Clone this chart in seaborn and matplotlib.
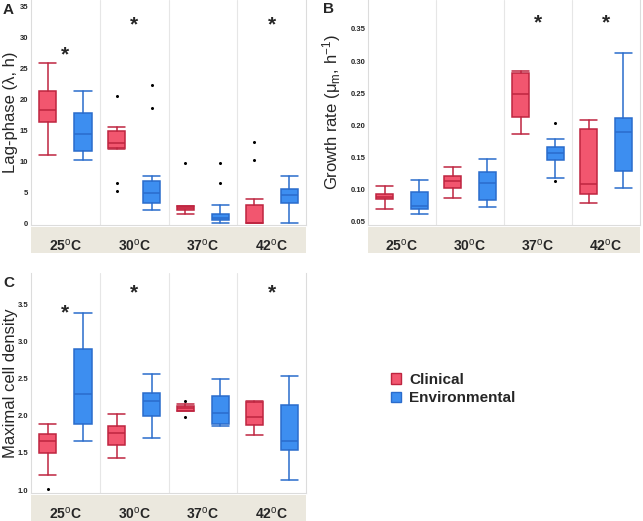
import numpy as np
import pandas as pd
import seaborn as sns
import matplotlib.pyplot as plt
from matplotlib.patches import Patch

# temperatures (categories)
temps = ['25', '30', '37', '42']

# box stats per temperature: (whislo, q1, median, q3, whishi)
lag_clinical = [(11.1, 16.4, 18.3, 21.4, 25.9), (12.0, 12.1, 12.9, 14.9, 15.5),
                (1.45, 2.15, 2.4, 2.75, 2.75), (0.0, 0.0, 0.0, 3.0, 3.85)]
lag_clinical_out = [[], [20.6, 6.45, 5.2], [9.8], [13.1, 10.2]]
lag_environ = [(10.2, 11.6, 14.5, 17.8, 21.3), (2.2, 3.2, 4.9, 6.8, 7.6),
               (0.0, 0.45, 0.9, 1.5, 2.9), (0.0, 3.2, 4.5, 5.5, 7.6)]
lag_environ_out = [[], [22.3, 18.7], [9.8, 6.55], []]
lag_stars = [27.2, 32.1, None, 32.1]

growth_clinical = [(0.070, 0.085, 0.0895, 0.094, 0.106), (0.088, 0.103, 0.113, 0.122, 0.136),
                   (0.186, 0.213, 0.249, 0.281, 0.284), (0.079, 0.093, 0.109, 0.195, 0.208)]
growth_clinical_out = [[], [], [], []]
growth_environ = [(0.062, 0.070, 0.0755, 0.097, 0.116), (0.074, 0.084, 0.110, 0.127, 0.148),
                  (0.119, 0.147, 0.157, 0.166, 0.179), (0.103, 0.130, 0.190, 0.211, 0.312)]
growth_environ_out = [[], [], [0.204, 0.114], []]
growth_stars = [None, None, 0.360, 0.360]

dens_clinical = [(1.206, 1.494, 1.655, 1.759, 1.893), (1.431, 1.606, 1.772, 1.857, 2.028),
                 (2.06, 2.068, 2.109, 2.131, 2.16), (1.736, 1.880, 1.978, 2.180, 2.203)]
dens_clinical_out = [[1.02], [], [2.198, 1.983], []]
dens_environ = [(1.660, 1.884, 2.297, 2.894, 3.383), (1.696, 1.996, 2.194, 2.302, 2.566),
                (1.857, 1.889, 2.037, 2.270, 2.499), (1.139, 1.534, 1.655, 2.140, 2.531)]
dens_environ_out = [[], [], [], []]
dens_stars = [3.38, 3.657, None, 3.657]

groups = ['Clinical', 'Environmental']

sns.set_theme(style='white')
plt.rcParams['font.family'] = ['Liberation Sans', 'DejaVu Sans']
plt.rcParams['mathtext.fontset'] = 'custom'
plt.rcParams['mathtext.rm'] = 'Liberation Sans'
plt.rcParams['mathtext.it'] = 'Liberation Sans:italic'
plt.rcParams['mathtext.bf'] = 'Liberation Sans:bold'

red_fill, red_edge = '#f2566f', '#be2540'
blue_fill, blue_edge = '#3d8ef0', '#2a6ccc'
band_color = '#ebe8de'
W, H = 643, 521


def make_stats(boxes, outliers):
    stats = []
    for (lo, q1, med, q3, hi), out in zip(boxes, outliers):
        stats.append(dict(whislo=lo, q1=q1, med=med, q3=q3, whishi=hi, fliers=out))
    return stats


def draw_group(ax, boxes, outliers, offset, fill, edge):
    pos = np.arange(len(temps)) + offset
    ax.bxp(make_stats(boxes, outliers), positions=pos, widths=0.25, capwidths=0.25,
           patch_artist=True, showfliers=True,
           boxprops=dict(facecolor=fill, edgecolor=edge, linewidth=1.1),
           medianprops=dict(color=edge, linewidth=1.1),
           whiskerprops=dict(color=edge, linewidth=1.1),
           capprops=dict(color=edge, linewidth=1.1),
           flierprops=dict(marker='o', markersize=1.2, markerfacecolor='black',
                           markeredgecolor='black'))


def make_panel(px, py, pw, ph, data, ylim, yticks, fmt, ylabel, label_x, stars,
               letter, letter_xy):
    ax = fig.add_axes([px / W, 1 - (py + ph) / H, pw / W, ph / H])
    draw_group(ax, data[0], data[1], -0.255, red_fill, red_edge)
    draw_group(ax, data[2], data[3], 0.255, blue_fill, blue_edge)
    for xv in [0.5, 1.5, 2.5]:
        ax.axvline(xv, color='#e6e6e6', lw=0.8, zorder=0)
    ax.set_xlim(-0.5, 3.5)
    ax.set_ylim(ylim)
    ax.set_xticks([])
    ax.set_yticks(yticks)
    ax.set_yticklabels([fmt.format(t) for t in yticks], fontsize=5.5, fontweight='bold')
    ax.tick_params(axis='y', length=0, pad=2)
    for s in ax.spines.values():
        s.set_color('#dcdcdc')
        s.set_linewidth(0.8)
    ax.spines['top'].set_visible(False)
    ax.set_ylabel(ylabel, fontsize=12)
    ax.yaxis.set_label_coords((label_x - px) / pw, 0.5)
    for i, s in enumerate(stars):
        if s is not None:
            ax.text(i, s, '*', ha='center', va='center', fontsize=15, fontweight='bold')
    # temperature band
    band = fig.add_axes([px / W, 1 - (py + ph + 28) / H, pw / W, 26 / H])
    band.set_facecolor(band_color)
    band.set_xlim(-0.5, 3.5)
    band.set_ylim(0, 1)
    band.set_xticks([])
    band.set_yticks([])
    for s in band.spines.values():
        s.set_visible(False)
    for i, t in enumerate(temps):
        band.text(i, 0.3, t + r'$^{\mathrm{o}}$C', ha='center', va='center',
                  fontsize=10, fontweight='bold')
    fig.text(letter_xy[0] / W, 1 - letter_xy[1] / H, letter, fontsize=11,
             fontweight='bold', ha='left', va='center')
    return ax


fig = plt.figure(figsize=(6.43, 5.21), dpi=100)

make_panel(31, 0, 275, 225,
           (lag_clinical, lag_clinical_out, lag_environ, lag_environ_out),
           (-0.3, 36.1), [0, 5, 10, 15, 20, 25, 30, 35], '{:.0f}',
           'Lag-phase (λ, h)', 18, lag_stars, 'A', (3, 10))

make_panel(368, 0, 272, 225,
           (growth_clinical, growth_clinical_out, growth_environ, growth_environ_out),
           (0.0453, 0.395), [0.05, 0.10, 0.15, 0.20, 0.25, 0.30, 0.35], '{:.2f}',
           r'Growth rate (μ$_{\mathrm{m}}$, h$^{\mathrm{-1}}$)', 343, growth_stars,
           'B', (323, 9))

make_panel(31, 273, 275, 220,
           (dens_clinical, dens_clinical_out, dens_environ, dens_environ_out),
           (0.96, 3.92), [1.0, 1.5, 2.0, 2.5, 3.0, 3.5], '{:.1f}',
           'Maximal cell density', 18, dens_stars, 'C', (3, 283))

handles = [Patch(facecolor=red_fill, edgecolor=red_edge, label=groups[0]),
           Patch(facecolor=blue_fill, edgecolor=blue_edge, label=groups[1])]
fig.legend(handles=handles, loc='center left', bbox_to_anchor=(377 / W, 1 - 389 / H),
           frameon=False, prop=dict(size=11, weight='bold'), handlelength=0.7,
           handleheight=0.7, handletextpad=0.5, labelspacing=0.3)

fig.savefig('out.png', dpi=100)
